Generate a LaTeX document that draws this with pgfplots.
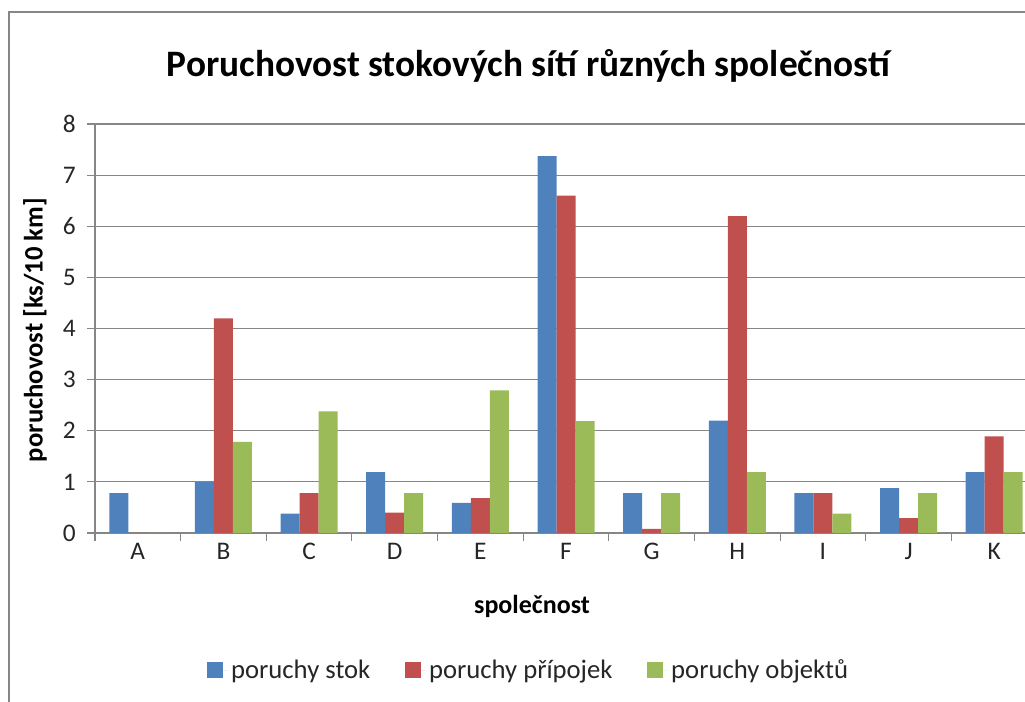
\documentclass[border=0pt]{standalone}
\usepackage{fontspec}
\setmainfont{Carlito}
\usepackage{pgfplots}
\pgfplotsset{compat=1.18}
\definecolor{xlblue}{HTML}{4F81BD}
\definecolor{xlred}{HTML}{C0504D}
\definecolor{xlgreen}{HTML}{9BBB59}
\definecolor{axisgray}{HTML}{868686}

\pgfplotstableread{
idx name stok pripojek objektu
0  A 0.78 0.00 0.00
1  B 1.00 4.20 1.78
2  C 0.38 0.78 2.38
3  D 1.19 0.40 0.78
4  E 0.59 0.68 2.79
5  F 7.37 6.60 2.19
6  G 0.78 0.08 0.78
7  H 2.20 6.20 1.19
8  I 0.78 0.78 0.38
9  J 0.88 0.29 0.78
10 K 1.19 1.89 1.19
}\data

\begin{document}
\begin{tikzpicture}
% chart area frame (cut off on the right and at the bottom)
\draw[axisgray, line width=1.2pt] (-64.5pt,-200pt) -- (-64.5pt,390.75pt) -- (800pt,390.75pt);
\begin{axis}[
    at={(0pt,0pt)}, anchor=south west,
    scale only axis,
    width=706.5pt, height=306.75pt,
    ybar=0pt,
    bar width=14.25pt,
    xmin=-0.5, xmax=10.5,
    ymin=0, ymax=8,
    axis x line=bottom, axis y line=left,
    axis line style={-, draw=axisgray, line width=0.8pt},
    tick align=outside,
    major tick length=6pt,
    tick style={draw=axisgray, line width=0.8pt},
    xtick={-0.5,0.5,...,10.5},
    xticklabels={},
    extra x ticks={0,1,...,10},
    extra x tick labels={A,B,C,D,E,F,G,H,I,J,K},
    extra x tick style={major tick length=0pt, grid=none},
    ytick={0,1,...,8},
    ymajorgrids=true,
    grid style={draw=axisgray, line width=0.8pt},
    tick label style={font=\fontsize{19}{21}\selectfont, text=black!85},
    /pgf/number format/assume math mode=true,
    xticklabel style={yshift=-4pt},
    yticklabel style={xshift=-5pt},
    legend columns=3,
    legend style={at={(axis description cs:0.4607,-0.335)}, anchor=center,
        draw=none, font=\fontsize{20}{22}\selectfont, text=black!85,
        /tikz/every even column/.append style={column sep=24pt}},
    legend image code/.code={\fill[#1] (0pt,-6pt) rectangle (12pt,6pt);
        \path (0pt,0pt) -- (16pt,0pt);},
]
\addplot[fill=xlblue, draw=none] table[x=idx, y=stok] {\data};
\addplot[fill=xlred, draw=none] table[x=idx, y=pripojek] {\data};
\addplot[fill=xlgreen, draw=none] table[x=idx, y=objektu] {\data};
\legend{poruchy stok, poruchy přípojek, poruchy objektů}
\end{axis}
\node[anchor=base, font=\fontsize{28}{32}\selectfont\bfseries] at (325pt,342pt) {Poruchovost stokových sítí různých společností};
\node[anchor=center, rotate=90, font=\fontsize{20}{22}\selectfont\bfseries] at (-45pt,152.25pt) {poruchovost [ks/10 km]};
\node[anchor=base, font=\fontsize{19.5}{22}\selectfont\bfseries] at (327.75pt,-60.75pt) {společnost};
\pgfresetboundingbox
\path[use as bounding box] (-71.25pt,-126.75pt) rectangle (697.5pt,399.75pt);
\end{tikzpicture}
\end{document}
